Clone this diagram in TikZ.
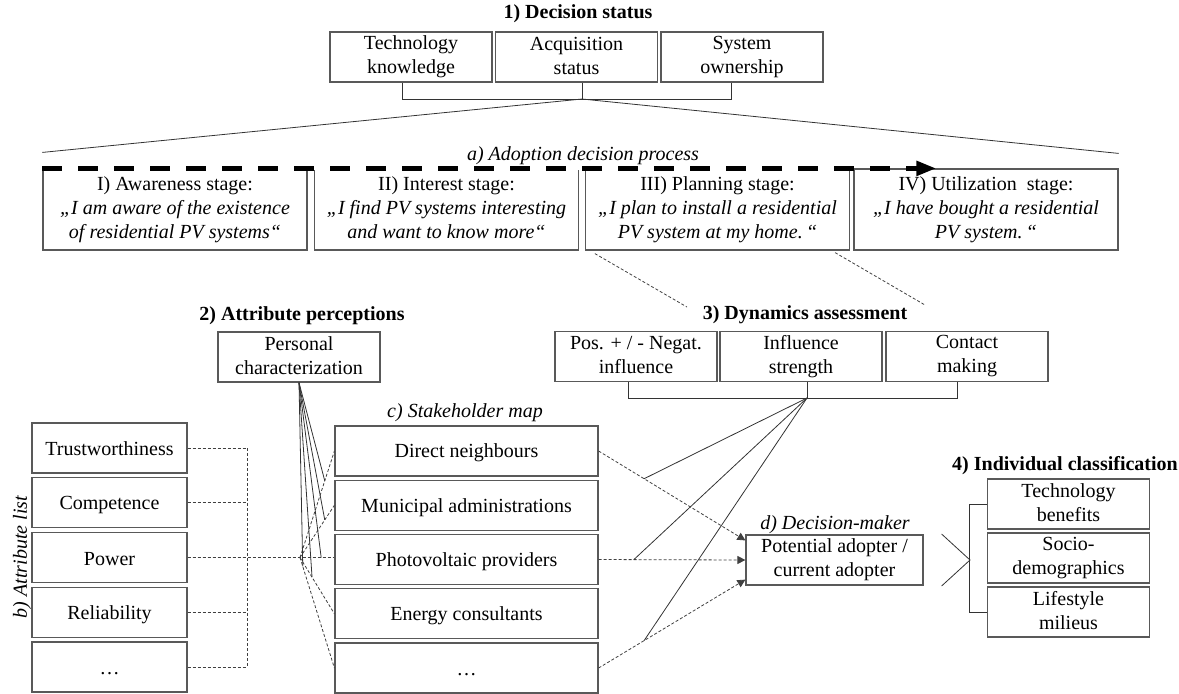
\documentclass[tikz,border=0pt]{standalone}
\usepackage{fontspec}
\setmainfont{Liberation Serif}
\usetikzlibrary{arrows.meta}
\newcommand\boxtopstrut{\rule{0pt}{9pt}}
\newcommand\boxbotstrut{\rule[-1.5pt]{0pt}{1.5pt}}
\tikzset{
  box/.style={draw=black!65, line width=0.6pt, inner sep=0pt, align=center, font=\fontsize{10}{12}\selectfont,
    execute at begin node=\boxtopstrut, execute at end node=\boxbotstrut},
  sbox/.style={box, minimum width=81pt, minimum height=25pt},
  stagebox/.style={box, minimum width=132pt, minimum height=40.5pt},
  attbox/.style={box, minimum width=77.5pt, minimum height=25pt},
  shbox/.style={box, minimum width=131.5pt, minimum height=25pt},
  title/.style={font=\fontsize{10}{12}\selectfont\bfseries, inner sep=0pt},
  lbl/.style={font=\fontsize{10}{12}\selectfont\itshape, inner sep=0pt},
  link/.style={draw=black!80, line width=0.4pt},
  dashlink/.style={draw=black!75, line width=0.4pt, dash pattern=on 1.5pt off 1pt}
}
\begin{document}
\begin{tikzpicture}[x=0.5pt, y=-0.5pt, >={Triangle[length=4pt,width=4pt]}]
    \useasboundingbox (0,0) rectangle (1179,693);
    % 1) decision status
    \node[title] (dst) at (578,14) {1) Decision status};
    \node[sbox] (tk) at (411,57) {Technology\\knowledge};
    \node[sbox] (acq) at (576.5,57) {Acquisition\\status};
    \node[sbox] (so) at (742,57) {System\\ownership};
    \coordinate (dsj) at (582,99);
    \draw[link] ([xshift=-4.5pt]tk.south) |- (dsj) -| ([xshift=-5.5pt]so.south);
    \draw[link] ([xshift=2.75pt]acq.south) -- (dsj);
    % a) adoption decision process
    \node[stagebox] (s1) at (175,209.5) {I) Awareness stage:\\\textit{„I am aware of the existence}\\\textit{of residential PV systems“}};
    \node[stagebox] (s2) at (446.5,209.5) {II) Interest stage:\\\textit{„I find PV systems interesting}\\\textit{and want to know more“}};
    \node[stagebox] (s3) at (717.5,209.5) {III) Planning stage:\\\textit{„I plan to install a residential}\\\textit{PV system at my home.\,“}};
    \node[stagebox] (s4) at (986,209.5) {IV) Utilization\ \ stage:\\\textit{„I have bought a residential}\\\textit{PV system.\,“}};
    \draw[link] ([yshift=8pt]s1.north west) -- (dsj) -- ([yshift=7.5pt]s4.north east);
    \draw[white, line width=1.2pt] (s1.north west) -- (s3.north east);
    \draw[line width=2.5pt, dash pattern=on 10pt off 8pt, -{Triangle[length=10pt,width=7pt]}]
        (s1.north west) -- ([xshift=41.5pt]s4.north west);
    \node[lbl] (adp) at (583,156) {a) Adoption decision process};
    % 3) dynamics assessment
    \node[title] (dyn) at (805,315) {3) Dynamics assessment};
    \coordinate (dl) at (687,307); \coordinate (dr) at (925,305);
    \draw[dashlink] ([shift={(5pt,-1.5pt)}]s3.south west) -- (dl);
    \draw[dashlink] ([shift={(-7.5pt,-1pt)}]s3.south east) -- (dr);
    \node[sbox] (pn) at (636,356.5) {Pos. + / - Negat.\\influence};
    \node[sbox] (is) at (801,356.5) {Influence\\strength};
    \node[sbox] (cm) at (967,356.5) {Contact\\making};
    \coordinate (dyj) at (807,398);
    \draw[link] ([xshift=-4pt]pn.south) |- (dyj) -| ([xshift=-5pt]cm.south);
    \draw[link] ([xshift=3pt]is.south) -- (dyj);
    % 2) attribute perceptions
    \node[title] (atp) at (302,316) {2) Attribute perceptions};
    \node[sbox] (perc) at (299,357) {Personal\\characterization};
    % b) attribute list, c) stakeholder map
    \foreach \t [count=\i] in {Trustworthiness,Competence,Power,Reliability,…}
        \node[attbox] (att\i) at (109.5,{448+(\i-1)*54.75}) {\t};
    \node[lbl, rotate=90] (attl) at (22,557) {b) Attribute list};
    \foreach \t [count=\i] in {Direct neighbours,Municipal administrations,Photovoltaic providers,Energy consultants,…}
        \node[shbox] (sh\i) at (466.5,{451+(\i-1)*54.25}) {\t};
    \node[lbl] (shl) at (465,413) {c) Stakeholder map};
    \coordinate (abar) at (247,448);
    \foreach \i in {1,...,5}
        \draw[dashlink] (att\i.east) -- (att\i.east -| abar);
    \draw[dashlink] (att1.east -| abar) -- (att5.east -| abar);
    \draw[dashlink] (att3.east) -- (att3.east -| sh3.west) coordinate[pos=0.91] (fp3);
    \coordinate (fan) at (300,557.5);
    \foreach \i/\p in {1/0.72,2/0.72,4/0.35,5/0.08}
        \draw[dashlink] (fan) -- (sh\i.west) coordinate[pos=\p] (fp\i);
    \foreach \i in {1,...,5}
        \draw[link] (perc.south) -- (fp\i);
    % d) decision-maker
    \node[box, minimum width=88.5pt, minimum height=25pt] (adopt) at (834.5,560) {Potential adopter /\\current adopter};
    \node[lbl] (dml) at (835,525) {d) Decision-maker};
    \draw[dashlink, ->] (sh1.east) -- ([yshift=-3pt]adopt.north west) coordinate[pos=0.31] (dp1);
    \draw[dashlink, ->] (sh3.east) -- (adopt.west) coordinate[pos=0.24] (dp2);
    \draw[dashlink, ->] (sh5.east) -- ([yshift=3pt]adopt.south west) coordinate[pos=0.31] (dp3);
    \foreach \i in {1,2,3}
        \draw[link] (dyj) -- (dp\i);
    % 4) individual classification
    \node[title] (icl) at (1065,466) {4) Individual classification};
    \node[sbox] (tb) at (1068.5,504) {Technology\\benefits};
    \node[sbox] (sd) at (1068.5,558) {Socio-\\demographics};
    \node[sbox] (lm) at (1068.5,612) {Lifestyle\\milieus};
    \draw[link] (tb.west) -- ++(-18,0) |- (lm.west);
    \coordinate (chv) at (970,560);
    \draw[link] ([shift={(9pt,13pt)}]adopt.east) -- (chv) -- ([shift={(9pt,-13pt)}]adopt.east);
\end{tikzpicture}
\end{document}
